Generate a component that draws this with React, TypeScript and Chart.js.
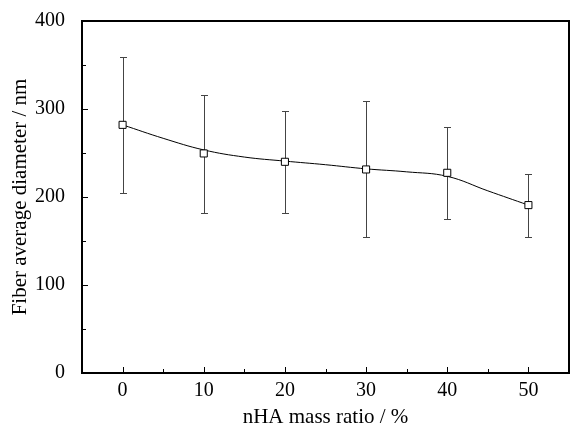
import React, { useEffect, useRef } from 'react';
import { Chart, registerables } from 'chart.js';

Chart.register(...registerables);

// measured points
const massRatio = [0, 10, 20, 30, 40, 50];
const diameter = [282, 249.5, 240, 231.3, 227.5, 190.8];
const errUpper = [359, 316, 298, 309, 279, 226];
const errLower = [205, 182, 182, 154, 175, 154];
// smoothed trend curve
const curveX = [0, 5, 10, 15, 20, 25, 30, 35, 40, 45, 50];
const curveY = [282, 266.7, 253.5, 245.4, 240.8, 236.7, 232, 228.6, 223.5, 207, 190.8];
// axis ticks
const xMajorTicks = [0, 10, 20, 30, 40, 50];
const xMinorTicks = [5, 15, 25, 35, 45];
const yMajorTicks = [0, 100, 200, 300, 400];
const yMinorTicks = [50, 150, 250, 350];

const FONT = "'Liberation Serif', 'Times New Roman', serif";

const errorBarPlugin = {
  id: 'errorBars',
  beforeDatasetsDraw(chart: any) {
    const { ctx, scales } = chart;
    const xs = scales.x;
    const ys = scales.y;
    ctx.save();
    ctx.strokeStyle = '#444444';
    ctx.lineWidth = 1;
    massRatio.forEach((m, i) => {
      const x = Math.round(xs.getPixelForValue(m)) + 0.5;
      const yt = Math.round(ys.getPixelForValue(errUpper[i])) + 0.5;
      const yb = Math.round(ys.getPixelForValue(errLower[i])) + 0.5;
      ctx.beginPath();
      ctx.moveTo(x, yt);
      ctx.lineTo(x, yb);
      ctx.moveTo(x - 3.5, yt);
      ctx.lineTo(x + 3.5, yt);
      ctx.moveTo(x - 3.5, yb);
      ctx.lineTo(x + 3.5, yb);
      ctx.stroke();
    });
    ctx.restore();
  },
};

const framePlugin = {
  id: 'frame',
  afterDraw(chart: any) {
    const { ctx, chartArea, scales } = chart;
    const { left, right, top, bottom } = chartArea;
    ctx.save();
    ctx.strokeStyle = '#000';
    ctx.lineWidth = 1;
    ctx.beginPath();
    xMajorTicks.forEach((v) => {
      const x = Math.round(scales.x.getPixelForValue(v)) + 0.5;
      ctx.moveTo(x, bottom);
      ctx.lineTo(x, bottom - 6);
    });
    xMinorTicks.forEach((v) => {
      const x = Math.round(scales.x.getPixelForValue(v)) + 0.5;
      ctx.moveTo(x, bottom);
      ctx.lineTo(x, bottom - 4);
    });
    yMajorTicks.forEach((v) => {
      const y = Math.round(scales.y.getPixelForValue(v)) + 0.5;
      ctx.moveTo(left, y);
      ctx.lineTo(left + 6, y);
    });
    yMinorTicks.forEach((v) => {
      const y = Math.round(scales.y.getPixelForValue(v)) + 0.5;
      ctx.moveTo(left, y);
      ctx.lineTo(left + 4, y);
    });
    ctx.stroke();
    ctx.lineWidth = 2;
    ctx.strokeRect(left, top, right - left, bottom - top);
    ctx.restore();
  },
};

export default function App() {
  const canvasRef = useRef<HTMLCanvasElement | null>(null);

  useEffect(() => {
    document.body.style.margin = '0';
    const canvas = canvasRef.current;
    if (!canvas) return;
    const chart = new Chart(canvas, {
      type: 'line',
      data: {
        datasets: [
          {
            label: 'trend',
            data: curveX.map((x, i) => ({ x, y: curveY[i] })),
            borderColor: '#000',
            borderWidth: 1,
            tension: 0.4,
            pointRadius: 0,
            fill: false,
            order: 2,
          },
          {
            label: 'diameter',
            data: massRatio.map((m, i) => ({ x: m, y: diameter[i] })),
            showLine: false,
            pointStyle: 'rect',
            pointRadius: 5,
            pointBackgroundColor: '#fff',
            pointBorderColor: '#000',
            pointBorderWidth: 1,
            fill: false,
            order: 1,
          },
        ],
      },
      options: {
        animation: false,
        responsive: false,
        maintainAspectRatio: false,
        devicePixelRatio: 1,
        layout: { padding: { top: 16, right: 11, left: 0, bottom: 0 } },
        plugins: {
          legend: { display: false },
          tooltip: { enabled: false },
        },
        scales: {
          x: {
            type: 'linear',
            min: -5,
            max: 55,
            grid: { display: false },
            border: { display: false },
            afterBuildTicks: (scale: any) => {
              scale.ticks = xMajorTicks.map((v) => ({ value: v }));
            },
            afterFit: (scale: any) => {
              scale.height = 54;
            },
            ticks: {
              color: '#000',
              padding: -2,
              font: { family: FONT, size: 20 },
            },
            title: {
              display: true,
              text: 'nHA mass ratio / %',
              color: '#000',
              font: { family: FONT, size: 21, lineHeight: 1 },
              padding: { top: 0, bottom: -1 },
            },
          },
          y: {
            type: 'linear',
            min: 0,
            max: 400,
            grid: { display: false },
            border: { display: false },
            afterBuildTicks: (scale: any) => {
              scale.ticks = yMajorTicks.map((v) => ({ value: v }));
            },
            afterFit: (scale: any) => {
              scale.width = 82;
            },
            ticks: {
              color: '#000',
              padding: 9,
              font: { family: FONT, size: 20 },
            },
            title: {
              display: true,
              text: 'Fiber average diameter / nm',
              color: '#000',
              font: { family: FONT, size: 21, lineHeight: 1 },
              padding: { top: 10, bottom: 0 },
            },
          },
        },
      },
      plugins: [errorBarPlugin, framePlugin],
    } as any);
    return () => chart.destroy();
  }, []);

  return (
    <div style={{ position: 'fixed', left: 0, top: 0, width: 580, height: 427, background: '#fff' }}>
      <canvas ref={canvasRef} width={580} height={427} style={{ width: 580, height: 427, display: 'block' }} />
    </div>
  );
}
